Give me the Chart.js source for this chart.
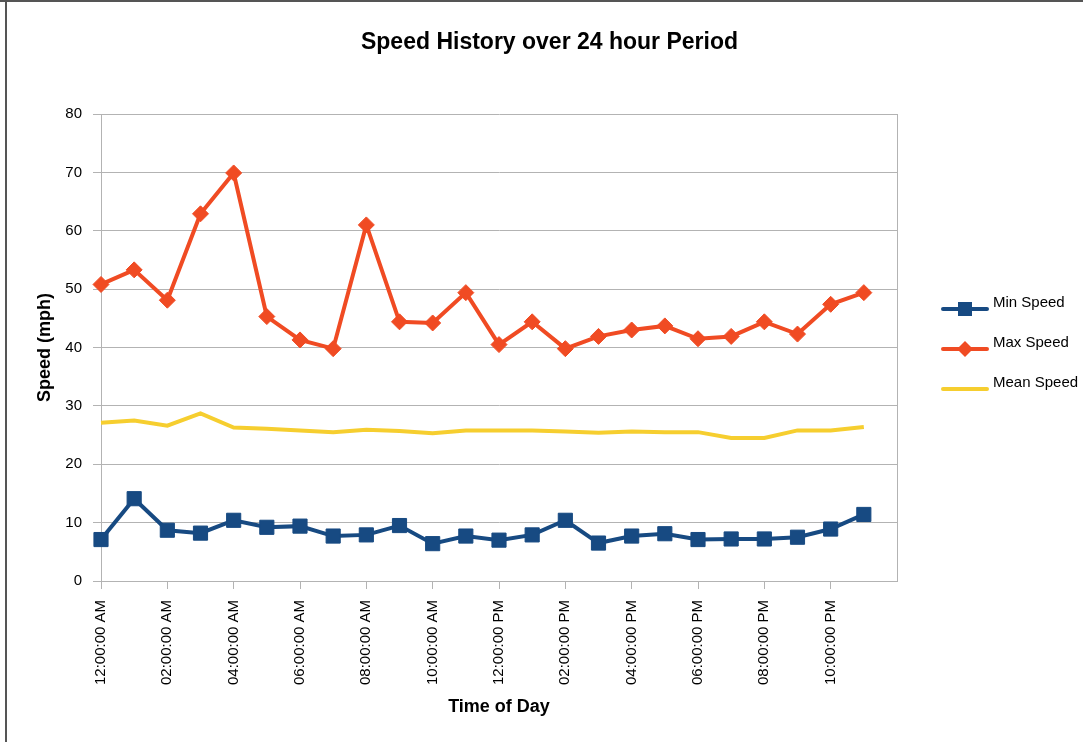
<!DOCTYPE html>
<html>
<head>
<meta charset="utf-8">
<script src="https://cdn.jsdelivr.net/npm/chart.js@4.4.1/dist/chart.umd.min.js"></script>
<style>
  html, body { margin: 0; padding: 0; background: #fff; }
  #wrap { position: relative; width: 1083px; height: 742px; }
  #topLine { position: absolute; left: 0; top: 0; width: 1083px; height: 2px; background: #555; }
  #leftLine { position: absolute; left: 5px; top: 0; width: 2px; height: 742px; background: #555; }
</style>
</head>
<body>
<div id="wrap">
  <canvas id="speedChart" width="1083" height="742"></canvas>
  <div id="topLine"></div>
  <div id="leftLine"></div>
</div>
<script>
// Hours of the day (one reading per hour)
const hours = [
  "12:00:00 AM", "01:00:00 AM", "02:00:00 AM", "03:00:00 AM", "04:00:00 AM", "05:00:00 AM",
  "06:00:00 AM", "07:00:00 AM", "08:00:00 AM", "09:00:00 AM", "10:00:00 AM", "11:00:00 AM",
  "12:00:00 PM", "01:00:00 PM", "02:00:00 PM", "03:00:00 PM", "04:00:00 PM", "05:00:00 PM",
  "06:00:00 PM", "07:00:00 PM", "08:00:00 PM", "09:00:00 PM", "10:00:00 PM", "11:00:00 PM"
];

const minSpeed = [7.1, 14.1, 8.7, 8.2, 10.4, 9.2, 9.4, 7.7, 7.9, 9.5, 6.4, 7.7,
                  7.0, 7.9, 10.4, 6.5, 7.7, 8.1, 7.1, 7.2, 7.2, 7.5, 8.9, 11.4];
const maxSpeed = [50.8, 53.3, 48.1, 62.9, 69.9, 45.3, 41.3, 39.8, 61.0, 44.4, 44.2, 49.4,
                  40.5, 44.4, 39.8, 41.9, 43.0, 43.7, 41.5, 41.9, 44.4, 42.3, 47.4, 49.4];
const meanSpeed = [27.1, 27.5, 26.6, 28.7, 26.3, 26.1, 25.8, 25.5, 25.9, 25.7, 25.3, 25.8,
                   25.8, 25.8, 25.6, 25.4, 25.6, 25.5, 25.5, 24.5, 24.5, 25.8, 25.8, 26.4];

const yTicks = [0, 10, 20, 30, 40, 50, 60, 70, 80];

const FONT = "'Liberation Sans', Arial, sans-serif";
const GRID = "#b3b3b3";

// axis runs one slot past the last hour, so add an empty category
const axisLabels = hours.concat([""]);

// frame on the right side of the plot area
const plotFrame = {
  id: "plotFrame",
  beforeDatasetsDraw(chart) {
    const { ctx, chartArea } = chart;
    ctx.save();
    ctx.strokeStyle = GRID;
    ctx.lineWidth = 1;
    ctx.beginPath();
    ctx.moveTo(chartArea.right + 0.5, chartArea.top);
    ctx.lineTo(chartArea.right + 0.5, chartArea.bottom);
    ctx.stroke();
    ctx.restore();
  }
};

// legend: line with marker, like the original
const sideLegend = {
  id: "sideLegend",
  afterDraw(chart) {
    const ctx = chart.ctx;
    const x0 = 943, x1 = 987;
    let y = 309;
    ctx.save();
    chart.data.datasets.forEach(ds => {
      ctx.strokeStyle = ds.borderColor;
      ctx.lineWidth = 4;
      ctx.lineCap = "round";
      ctx.beginPath();
      ctx.moveTo(x0, y);
      ctx.lineTo(x1, y);
      ctx.stroke();
      const cx = (x0 + x1) / 2;
      ctx.fillStyle = ds.borderColor;
      if (ds.pointStyle === "rect") {
        ctx.fillRect(cx - 7, y - 7, 14, 14);
      } else if (ds.pointStyle === "rectRot") {
        ctx.beginPath();
        ctx.moveTo(cx, y - 8);
        ctx.lineTo(cx + 8, y);
        ctx.lineTo(cx, y + 8);
        ctx.lineTo(cx - 8, y);
        ctx.closePath();
        ctx.fill();
      }
      ctx.fillStyle = "#000";
      ctx.font = "15px " + FONT;
      ctx.textBaseline = "middle";
      ctx.textAlign = "left";
      ctx.fillText(ds.label, 993, y - 6);
      y += 40;
    });
    ctx.restore();
  }
};

const ctx = document.getElementById("speedChart").getContext("2d");
new Chart(ctx, {
  type: "line",
  data: {
    labels: axisLabels,
    datasets: [
      {
        label: "Min Speed",
        data: minSpeed,
        borderColor: "#174a82",
        backgroundColor: "#174a82",
        borderWidth: 4,
        pointStyle: "rect",
        pointRadius: 10,
        pointBorderWidth: 1,
        tension: 0
      },
      {
        label: "Max Speed",
        data: maxSpeed,
        borderColor: "#f04b23",
        backgroundColor: "#f04b23",
        borderWidth: 4,
        pointStyle: "rectRot",
        pointRadius: 8,
        pointBorderWidth: 1,
        tension: 0
      },
      {
        label: "Mean Speed",
        data: meanSpeed,
        borderColor: "#f6ce2f",
        backgroundColor: "#f6ce2f",
        borderWidth: 4,
        pointRadius: 0,
        tension: 0
      }
    ]
  },
  options: {
    responsive: false,
    animation: false,
    layout: { padding: { left: 16, right: 0, top: 0, bottom: 0 } },
    plugins: {
      legend: { display: false },
      tooltip: { enabled: false },
      title: {
        display: true,
        text: "Speed History over 24 hour Period",
        color: "#000",
        font: { family: FONT, size: 23, weight: "bold" },
        padding: { top: 29, bottom: 57.4 }
      }
    },
    scales: {
      x: {
        type: "category",
        offset: false,
        grid: {
          drawOnChartArea: false,
          drawTicks: true,
          tickLength: 8,
          tickColor: c => (c.index % 2 === 0 && c.index < hours.length) ? GRID : "rgba(0,0,0,0)"
        },
        border: { color: GRID },
        ticks: {
          autoSkip: false,
          minRotation: 90,
          maxRotation: 90,
          padding: 11,
          color: "#000",
          font: { family: FONT, size: 15 },
          callback: (v, i) => (i % 2 === 0 ? axisLabels[i] : "")
        },
        title: {
          display: true,
          text: "Time of Day",
          color: "#000",
          font: { family: FONT, size: 18, weight: "bold" },
          padding: { top: 0, bottom: 24 }
        },
        afterFit: s => { s.height = 161; }
      },
      y: {
        min: 0,
        max: 80,
        afterBuildTicks: s => { s.ticks = yTicks.map(v => ({ value: v })); },
        grid: { color: GRID, lineWidth: 1, tickLength: 8 },
        border: { color: GRID },
        ticks: {
          padding: 11,
          color: "#000",
          font: { family: FONT, size: 15 }
        },
        title: {
          display: true,
          text: "Speed (mph)",
          color: "#000",
          font: { family: FONT, size: 18, weight: "bold" },
          padding: { top: 18, bottom: 0 }
        },
        afterFit: s => { s.width = 85; }
      },
      // empty right-hand axis that keeps room for the legend
      side: {
        type: "linear",
        position: "right",
        grid: { display: false },
        border: { display: false },
        ticks: { display: false },
        afterFit: s => { s.width = 186; }
      }
    }
  },
  plugins: [plotFrame, sideLegend]
});
</script>
</body>
</html>
